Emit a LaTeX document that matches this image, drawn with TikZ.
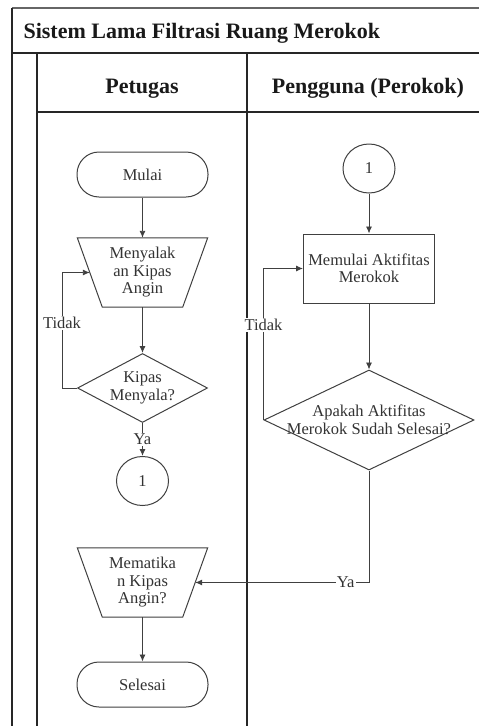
\documentclass[tikz,border=0pt]{standalone}
\usepackage{fontspec}
\setmainfont{Liberation Serif}
\usetikzlibrary{shapes.geometric,arrows.meta}
\begin{document}
\begin{tikzpicture}[x=1pt,y=-1pt,
  lane/.style={draw=black!85, line width=1.3pt},
  shp/.style={draw=black!75, line width=1pt, fill=white},
  txt/.style={font=\fontsize{16.5}{17.5}\selectfont, text=black!80, align=center},
  arr/.style={draw=black!75, line width=0.9pt, -{Latex[length=7pt,width=6pt]}},
  lbl/.style={fill=white, inner sep=1pt, font=\fontsize{16.5}{17.5}\selectfont, text=black!80},
  head/.style={font=\bfseries\fontsize{22}{24}\selectfont, text=black!90},
  term/.style={shp, txt, rectangle, rounded corners=22pt, minimum width=131pt, minimum height=45pt},
  trapbox/.style={txt, rectangle, minimum width=130pt, minimum height=69pt, inner sep=0pt},
  conn/.style={shp, txt, ellipse, minimum width=52pt, minimum height=49pt, inner sep=0pt},
  dec/.style={shp, diamond, inner sep=0pt}
]
\useasboundingbox (0,0) rectangle (479,726);
% swimlane frame
\draw[lane, draw=black!60] (12,8) -- (490,8);
\draw[lane] (12,8) -- (12,730);
\draw[lane] (12,53) -- (490,53);
\draw[lane] (37,53) -- (37,730);
\draw[lane] (247,53) -- (247,730);
\draw[lane] (37,112) -- (490,112);
% headers
\node[head, anchor=base west] (title) at (20,38.5) {Sistem Lama Filtrasi Ruang Merokok};
\node[head, anchor=base] (h1) at (142,93) {Petugas};
\node[head, anchor=base] (h2) at (368,93) {Pengguna (Perokok)};
% lane 1
\node[term] (mulai) at (142.5,174.5) {Mulai};
\node[trapbox] (menyala) at (142.5,272.5) {};
\draw[shp] (menyala.north west) -- (menyala.north east) -- ([xshift=-25pt]menyala.south east)
  -- ([xshift=25pt]menyala.south west) -- cycle;
\node[txt] (menyalatxt) at (menyala.center) {Menyalak\\an Kipas\\Angin};
\coordinate (menyalaL) at ([xshift=12.5pt]menyala.west);
\node[dec, minimum width=130pt, minimum height=69pt, label={[txt]center:Kipas\\Menyala?}] (kipas) at (142.5,388) {};
\node[conn] (c1) at (142.5,481) {1};
\node[trapbox] (mat) at (142.5,582.5) {};
\draw[shp] (mat.north west) -- (mat.north east) -- ([xshift=-25pt]mat.south east)
  -- ([xshift=25pt]mat.south west) -- cycle;
\node[txt] (mattxt) at (mat.center) {Mematika\\n Kipas\\Angin?};
\coordinate (matR) at ([xshift=-12.5pt]mat.east);
\node[term] (selesai) at (142.5,684.5) {Selesai};
% lane 2
\node[conn] (c2) at (369,168.5) {1};
\node[shp, txt, rectangle, minimum width=131pt, minimum height=69pt] (mulaiak) at (369,268.5) {Memulai Aktifitas\\Merokok};
\node[dec, minimum width=210pt, minimum height=100pt, label={[txt]center:Apakah Aktifitas\\Merokok Sudah Selesai?}] (apakah) at (369,420) {};
% connectors lane 1
\draw[arr] (mulai) -- (menyala);
\draw[arr] (menyala) -- (kipas);
\draw[arr] (kipas) -- node[lbl]{Ya} (c1);
\draw[arr] (kipas.west) -- ++(-15,0) coordinate (t1) -- node[lbl,pos=.565]{Tidak} (t1 |- menyalaL) -- (menyalaL);
\draw[arr] (mat) -- (selesai);
% connectors lane 2
\draw[arr] (c2) -- (mulaiak);
\draw[arr] (mulaiak) -- (apakah);
\draw[arr] (apakah.west) -- node[lbl,pos=.627]{Tidak} (apakah.west |- mulaiak.west) -- (mulaiak.west);
\draw[arr] (apakah.south) |- node[lbl,pos=.567]{Ya} (matR);
\end{tikzpicture}
\end{document}
